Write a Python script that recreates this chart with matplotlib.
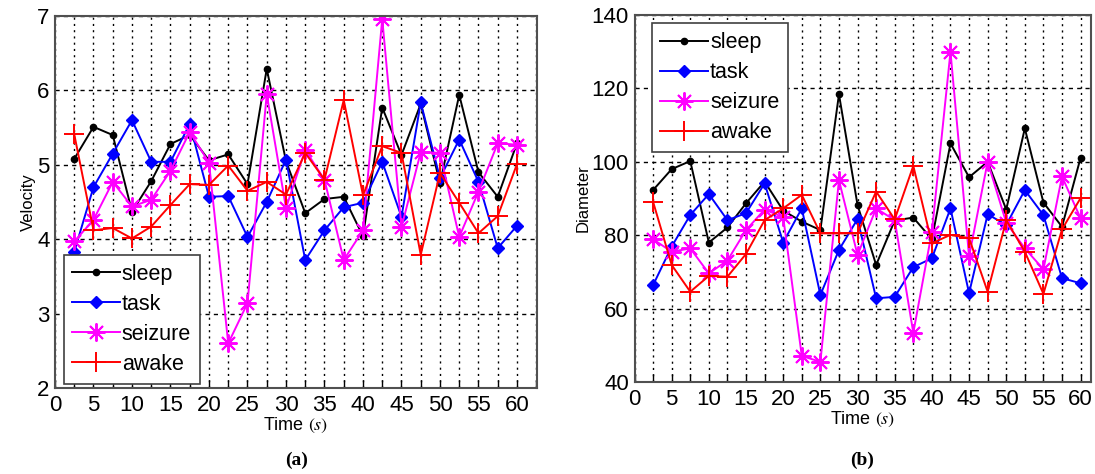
import matplotlib
matplotlib.use("Agg")
import matplotlib.pyplot as plt
from matplotlib.ticker import FixedLocator

plt.rcParams['font.family'] = ['Liberation Sans', 'DejaVu Sans']
plt.rcParams['mathtext.fontset'] = 'stix'

time = [2.5, 5, 7.5, 10, 12.5, 15, 17.5, 20, 22.5, 25, 27.5, 30,
        32.5, 35, 37.5, 40, 42.5, 45, 47.5, 50, 52.5, 55, 57.5, 60]

vel_sleep = [5.08, 5.51, 5.40, 4.37, 4.78, 5.28, 5.40, 5.06, 5.14, 4.74, 6.29, 5.05,
             4.35, 4.54, 4.57, 4.04, 5.77, 5.13, 5.82, 4.75, 5.94, 4.90, 4.57, 5.29]
vel_task = [3.83, 4.70, 5.15, 5.60, 5.04, 5.04, 5.55, 4.57, 4.58, 4.03, 4.50, 5.07,
            3.72, 4.12, 4.43, 4.49, 5.04, 4.30, 5.84, 4.82, 5.34, 4.77, 3.88, 4.18]
vel_seizure = [3.97, 4.26, 4.77, 4.44, 4.53, 4.92, 5.44, 5.03, 2.60, 3.14, 5.95, 4.42,
               5.20, 4.80, 3.72, 4.12, 6.96, 4.16, 5.17, 5.16, 4.03, 4.64, 5.29, 5.27]
vel_awake = [5.41, 4.12, 4.15, 4.01, 4.17, 4.46, 4.74, 4.73, 4.99, 4.65, 4.77, 4.60,
             5.16, 4.80, 5.87, 4.59, 5.25, 5.16, 3.79, 4.89, 4.49, 4.08, 4.31, 5.01]

dia_sleep = [92.3, 98.0, 100.2, 78.0, 82.1, 88.7, 94.6, 86.7, 83.7, 81.4, 118.4, 88.2,
             71.9, 84.0, 84.8, 78.9, 105.0, 95.8, 100.0, 87.0, 109.1, 88.9, 82.3, 101.1]
dia_task = [66.4, 76.9, 85.5, 91.2, 84.1, 86.0, 94.1, 78.0, 87.3, 63.7, 76.0, 84.4,
            62.8, 63.2, 71.3, 73.7, 87.3, 64.2, 85.7, 82.8, 92.3, 85.5, 68.3, 66.9]
dia_seizure = [78.9, 75.5, 76.4, 69.6, 73.1, 81.4, 87.0, 84.9, 47.1, 45.5, 95.0, 74.6,
               87.3, 84.1, 53.4, 81.0, 130.0, 74.2, 100.0, 83.4, 76.4, 70.7, 96.0, 84.6]
dia_awake = [89.1, 71.9, 64.6, 68.9, 68.7, 74.9, 84.1, 87.3, 91.0, 80.5, 80.5, 80.5,
             91.9, 84.3, 98.9, 77.8, 80.1, 79.2, 64.6, 84.1, 75.5, 64.0, 81.6, 90.1]

labels = ['sleep', 'task', 'seizure', 'awake']
x_major = [0, 5, 10, 15, 20, 25, 30, 35, 40, 45, 50, 55, 60]
vel_ticks = [2, 3, 4, 5, 6, 7]
dia_ticks = [40, 60, 80, 100, 120, 140]

styles = [
    dict(color='black', marker='.', markersize=9, lw=1.4),
    dict(color='#0000ff', marker='D', markersize=6, lw=1.4),
    dict(color='#ff00ff', marker=(8, 2, 0), markersize=13, lw=1.4, markeredgewidth=1.4),
    dict(color='#ff0000', marker='+', markersize=15, lw=1.4, markeredgewidth=1.4),
]

fig = plt.figure(figsize=(10.95, 4.74), dpi=100)
ax1 = fig.add_axes([55/1095, 1-388/474, (537-55)/1095, (388-16)/474])
ax2 = fig.add_axes([634.5/1095, 1-382/474, (1091-634.5)/1095, (382-15)/474])


def style_axes(ax, ylim, yticks, xmax):
    ax.set_xlim(0, xmax)
    ax.set_ylim(*ylim)
    ax.set_yticks(yticks)
    ax.xaxis.set_major_locator(FixedLocator(x_major))
    ax.xaxis.set_minor_locator(FixedLocator([t for t in time if t % 5 != 0] + [62.5]))
    ax.tick_params(axis='both', which='both', direction='in', labelsize=16,
                   top=False, right=False)
    ax.tick_params(axis='x', which='both', length=6, width=1.0, pad=5)
    ax.tick_params(axis='y', length=0, pad=4)
    ax.grid(True, axis='x', which='both', linestyle=(0, (1.5, 3)), color='black', lw=1.0)
    ax.grid(True, axis='y', which='major', linestyle=(0, (3, 3)), color='black', lw=1.0)
    ax.set_axisbelow(True)
    for s in ax.spines.values():
        s.set_color('#505050')
        s.set_linewidth(1.5)


for ax, data, ylim, yticks, xmax, ylabel in [
        (ax1, [vel_sleep, vel_task, vel_seizure, vel_awake], (2, 7), vel_ticks, 62.6, 'Velocity'),
        (ax2, [dia_sleep, dia_task, dia_seizure, dia_awake], (40, 140), dia_ticks, 61.4, 'Diameter')]:
    for d, lab, st in zip(data, labels, styles):
        ax.plot(time, d, label=lab, **st)
    style_axes(ax, ylim, yticks, xmax)
    ax.set_ylabel(ylabel, fontsize=12, labelpad=1)
    ax.set_xlabel(r'Time $(s)$', fontsize=13, labelpad=0)

leg_kw = dict(fontsize=15.5, frameon=True, fancybox=False, framealpha=1,
              edgecolor='#404040', handlelength=2.2, handletextpad=0.1,
              labelspacing=0.42, borderpad=0.4, borderaxespad=0)
l1 = ax1.legend(loc='lower left', bbox_to_anchor=(0.018, 0.012), **leg_kw)
l2 = ax2.legend(loc='upper left', bbox_to_anchor=(0.038, 0.977), **leg_kw)
for l in (l1, l2):
    l.get_frame().set_linewidth(1.2)

fig.text(297/1095, 1-460/474, '(a)', fontsize=14, fontweight='bold',
         family='Liberation Serif', ha='center', va='center')
fig.text(862/1095, 1-460/474, '(b)', fontsize=14, fontweight='bold',
         family='Liberation Serif', ha='center', va='center')

fig.savefig('out.png', dpi=100)
